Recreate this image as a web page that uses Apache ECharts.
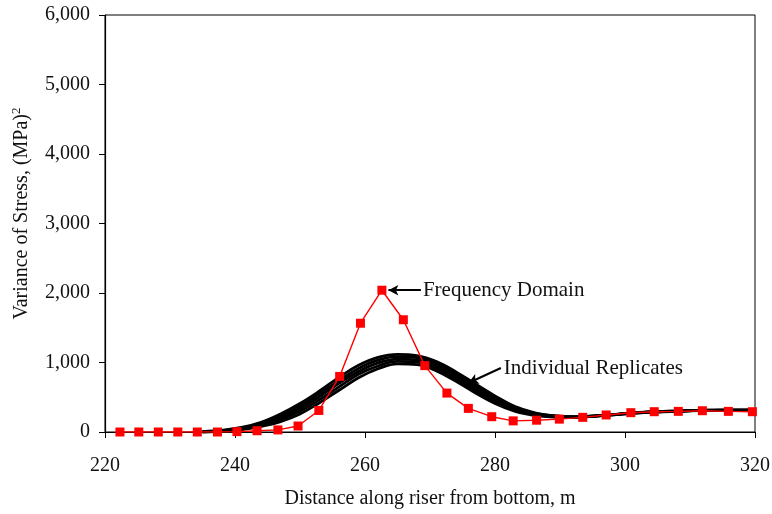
<!DOCTYPE html>
<html>
<head>
<meta charset="utf-8">
<script src="https://cdn.jsdelivr.net/npm/echarts@6/dist/echarts.min.js"></script>
<style>
  html, body { margin: 0; padding: 0; background: #fff; }
  #chart { width: 772px; height: 514px; }
</style>
</head>
<body>
<div id="chart"></div>
<script>
// frequency domain result (red squares)
var freqX = [222.3, 225.2, 228.2, 231.2, 234.2, 237.3, 240.3, 243.4, 246.6, 249.7, 252.9,
  256.1, 259.3, 262.6, 265.9, 269.2, 272.6, 275.9, 279.5, 282.8, 286.4, 289.9, 293.5,
  297.1, 300.9, 304.5, 308.2, 311.9, 315.9, 319.6];
var freqY = [0, 0, 0, 0, 0, 0, 5, 18, 30, 86, 310,
  800, 1565, 2040, 1615, 955, 560, 340, 220, 160, 170, 185, 211,
  245, 278, 292, 297, 306, 297, 292];

// individual replicates (black band)
var repX = [235, 238, 241, 244, 247, 250, 253, 256, 259, 262, 265, 268, 271, 274, 277,
  280, 283, 286, 289, 292, 295, 298, 301, 304, 307, 310, 313, 316, 320];
var rep1 = [0, 10, 35, 80, 150, 260, 420, 600, 780, 910, 980, 970, 880, 730, 560,
  410, 300, 240, 215, 210, 225, 245, 270, 285, 295, 305, 310, 310, 310];
var rep2 = [0, 14, 42, 95, 180, 300, 465, 650, 830, 950, 1015, 1005, 915, 765, 595,
  440, 320, 252, 222, 212, 226, 246, 271, 286, 296, 306, 311, 312, 312];
var rep3 = [2, 17, 50, 110, 205, 335, 510, 700, 870, 995, 1050, 1040, 950, 800, 630,
  465, 335, 262, 228, 215, 227, 247, 272, 287, 297, 307, 312, 314, 314];
var rep4 = [3, 21, 57, 125, 230, 370, 550, 740, 915, 1035, 1085, 1070, 985, 835, 665,
  495, 355, 272, 232, 218, 229, 249, 274, 289, 299, 309, 314, 316, 316];
var rep5 = [5, 25, 65, 140, 260, 410, 590, 785, 960, 1075, 1118, 1100, 1015, 865, 690,
  520, 370, 280, 235, 220, 230, 250, 275, 290, 300, 310, 315, 318, 318];
var replicates = [rep1, rep2, rep3, rep4, rep5];

var xTicks = [220, 240, 260, 280, 300, 320];
var yTicks = [0, 1000, 2000, 3000, 4000, 5000, 6000];

function pairs(xs, ys) {
  return xs.map(function (x, i) { return [x, ys[i]]; });
}

var font = '"Liberation Serif", "DejaVu Serif", serif';
var chart = echarts.init(document.getElementById('chart'));

var series = replicates.map(function (r) {
  return {
    type: 'line',
    data: pairs(repX, r),
    smooth: 0.4,
    symbol: 'none',
    lineStyle: { color: '#000', width: 2.8 },
    z: 2
  };
});

series.push({
  type: 'line',
  data: pairs(freqX, freqY),
  symbol: 'rect',
  symbolSize: 9,
  itemStyle: { color: '#ff0000' },
  lineStyle: { color: '#ff0000', width: 1.4 },
  z: 5,
  markLine: {
    silent: true,
    symbol: ['none', 'arrow'],
    symbolSize: [8, 10],
    lineStyle: { color: '#000', width: 2, type: 'solid' },
    label: { show: false },
    data: [
      [{ coord: [268.6, 2040] }, { coord: [263.6, 2040] }],
      [{ coord: [280.9, 921] }, { coord: [275.9, 705] }]
    ]
  }
});

chart.setOption({
  animation: false,
  backgroundColor: '#fff',
  textStyle: { fontFamily: font },
  grid: {
    left: 105, right: 17, top: 15, bottom: 82,
    outerBoundsMode: 'none',
    show: true, borderColor: '#000', borderWidth: 1
  },
  xAxis: {
    type: 'value',
    min: xTicks[0], max: xTicks[xTicks.length - 1], interval: 20,
    name: 'Distance along riser from bottom, m',
    nameLocation: 'middle', nameGap: 57,
    nameTextStyle: { fontFamily: font, fontSize: 20, color: '#111' },
    axisLine: { lineStyle: { color: '#000', width: 1.2 } },
    axisTick: { show: true, length: 6, lineStyle: { color: '#000' } },
    axisLabel: { fontFamily: font, fontSize: 20, color: '#111', margin: 24 },
    splitLine: { show: false }
  },
  yAxis: {
    type: 'value',
    min: yTicks[0], max: yTicks[yTicks.length - 1], interval: 1000,
    name: 'Variance of Stress, (MPa){sup|2}',
    nameLocation: 'middle', nameGap: 72,
    nameTextStyle: {
      fontFamily: font, fontSize: 20, color: '#111', padding: [0, 0, 0, 20],
      rich: { sup: { fontSize: 13, verticalAlign: 'top', padding: [0, 0, 10, 0], fontFamily: font, color: '#111' } }
    },
    axisLine: { show: true, lineStyle: { color: '#000', width: 1.2 } },
    axisTick: { show: true, length: 6, lineStyle: { color: '#000' } },
    axisLabel: {
      fontFamily: font, fontSize: 20, color: '#111', margin: 15,
      formatter: function (v) { return v.toLocaleString('en-US'); }
    },
    splitLine: { show: false }
  },
  series: series
});

// annotation texts placed next to the arrow tails
var p1 = chart.convertToPixel({ gridIndex: 0 }, [268.6, 2040]);
var p2 = chart.convertToPixel({ gridIndex: 0 }, [280.9, 921]);
chart.setOption({
  graphic: [
    { type: 'text', x: p1[0] + 2, y: p1[1], style: { text: 'Frequency Domain', font: '21px ' + font, fill: '#111', verticalAlign: 'middle' } },
    { type: 'text', x: p2[0] + 3, y: p2[1], style: { text: 'Individual Replicates', font: '21px ' + font, fill: '#111', verticalAlign: 'middle' } }
  ]
});
</script>
</body>
</html>
